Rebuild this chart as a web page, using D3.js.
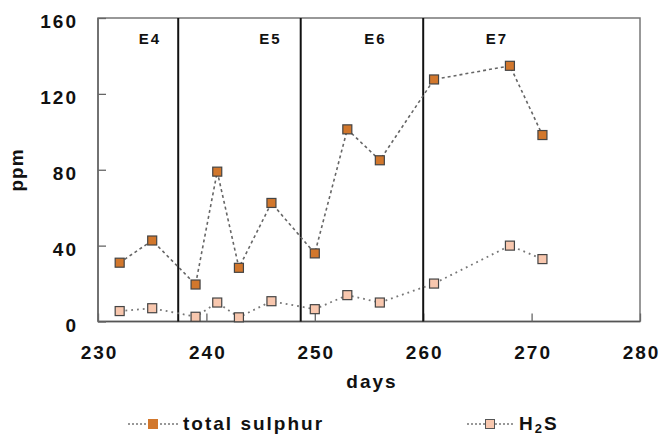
<!DOCTYPE html>
<html><head><meta charset="utf-8">
<script src="https://cdn.jsdelivr.net/npm/d3@7"></script>
<style>
html,body{margin:0;padding:0;background:#fff;}
text{font-family:"Liberation Sans",Arial,sans-serif;font-weight:bold;fill:#111;}
</style></head>
<body>
<svg id="c" width="661" height="434"></svg>
<script>
const days = [232, 235, 239, 241, 243, 246, 250, 253, 256, 261, 268, 271];
const totalSulphur = [31, 42.7, 19.5, 79, 28.3, 62.5, 35.9, 101.3, 85, 127.6, 134.8, 98.3];
const h2s = [5.5, 7, 2.5, 10, 2.2, 10.7, 6.5, 13.9, 10, 20, 40, 32.9];
const xTicks = [230, 240, 250, 260, 270, 280];
const yTicks = [0, 40, 80, 120, 160];
const phaseBounds = [237.4, 248.7, 260];
const phaseLabels = ["E4", "E5", "E6", "E7"];
const phaseLabelX = [234.8, 245.9, 255.6, 266.8];

const svg = d3.select("#c");
const x = d3.scaleLinear().domain([230, 280]).range([98, 640]);
const y = d3.scaleLinear().domain([0, 160]).range([321.5, 18]);

// frame
svg.append("rect").attr("x", x(230)).attr("y", y(160)).attr("width", x(280)-x(230)).attr("height", y(0)-y(160))
  .attr("fill", "none").attr("stroke", "#777").attr("stroke-width", 1.5);
svg.append("line").attr("x1", x(230)).attr("x2", x(280)).attr("y1", y(0)).attr("y2", y(0)).attr("stroke", "#555").attr("stroke-width", 1.5);
svg.append("line").attr("x1", x(230)).attr("x2", x(230)).attr("y1", y(0)).attr("y2", y(160)).attr("stroke", "#666").attr("stroke-width", 1.5);

// y axis
const yAxis = d3.axisLeft(y).tickValues(yTicks).tickSize(-8).tickPadding(20).tickFormat(d3.format("d"));
const gy = svg.append("g").attr("transform", `translate(${x(230)},0)`).call(yAxis);
gy.select(".domain").remove();
gy.selectAll(".tick line").attr("stroke", "#666").attr("stroke-width", 1.3);
gy.selectAll(".tick text").attr("font-size", 19).attr("letter-spacing", "2px").attr("fill", "#111")
  .attr("font-family", "Liberation Sans, Arial, sans-serif").attr("font-weight", "bold").attr("dy", "0.5em");

// x axis
const xAxis = d3.axisBottom(x).tickValues(xTicks).tickSize(-8).tickPadding(24).tickFormat(d3.format("d"));
const gx = svg.append("g").attr("transform", `translate(0,${y(0)})`).call(xAxis);
gx.select(".domain").remove();
gx.selectAll(".tick line").attr("stroke", "#666").attr("stroke-width", 1.3);
gx.selectAll(".tick text").attr("font-size", 19).attr("letter-spacing", "2px").attr("fill", "#111")
  .attr("font-family", "Liberation Sans, Arial, sans-serif").attr("font-weight", "bold").attr("dx", "1px");

// axis titles
svg.append("text").attr("x", 372).attr("y", 388).attr("text-anchor", "middle").attr("font-size", 19).attr("letter-spacing", "2px").text("days");
svg.append("text").attr("transform", "translate(23,170) rotate(-90)").attr("text-anchor", "middle").attr("font-size", 19).attr("letter-spacing", "1px").text("ppm");

// phase boundaries
svg.selectAll(".pb").data(phaseBounds).enter().append("line")
  .attr("x1", d => x(d)).attr("x2", d => x(d)).attr("y1", y(160)).attr("y2", y(0))
  .attr("stroke", "#111").attr("stroke-width", 2);
svg.selectAll(".pl").data(phaseLabels).enter().append("text")
  .attr("x", (d, i) => x(phaseLabelX[i])).attr("y", 44).attr("text-anchor", "middle")
  .attr("font-size", 15).attr("letter-spacing", "2px").text(d => d);

// lines
const pts = v => days.map((d, i) => [d, v[i]]);
const line = d3.line().x(d => x(d[0])).y(d => y(d[1]));
svg.append("path").attr("d", line(pts(totalSulphur))).attr("fill", "none").attr("stroke", "#666")
  .attr("stroke-width", 1.6).attr("stroke-dasharray", "3,3");
svg.append("path").attr("d", line(pts(h2s))).attr("fill", "none").attr("stroke", "#777")
  .attr("stroke-width", 1.8).attr("stroke-dasharray", "1.8,4");

const ms = 9;
function markers(v, fill) {
  svg.append("g").selectAll("rect").data(pts(v)).enter().append("rect")
    .attr("x", d => x(d[0]) - ms/2).attr("y", d => y(d[1]) - ms/2).attr("width", ms).attr("height", ms)
    .attr("fill", fill).attr("stroke", "#444").attr("stroke-width", 1.2);
}
markers(totalSulphur, "#D2772C");
markers(h2s, "#F8C7AE");

// legend
function legend(x0, x1, xm, dash, fill, stroke) {
  svg.append("line").attr("x1", x0).attr("x2", x1).attr("y1", 424).attr("y2", 424)
    .attr("stroke", "#777").attr("stroke-width", 1.5).attr("stroke-dasharray", dash);
  svg.append("rect").attr("x", xm - 4.5).attr("y", 419.5).attr("width", 9).attr("height", 9)
    .attr("fill", fill).attr("stroke", stroke).attr("stroke-width", 1);
  return svg.append("text").attr("y", 430).attr("font-size", 19).attr("letter-spacing", "2px");
}
legend(128, 178, 153, "2,2", "#D2772C", "#D2772C").attr("x", 183).text("total sulphur");
const t2 = legend(467, 513, 490, "2,2", "#F8C7AE", "#555").attr("x", 519);
t2.append("tspan").text("H");
t2.append("tspan").attr("font-size", 13).attr("dy", 2.5).text("2");
t2.append("tspan").attr("dy", -2.5).text("S");
</script>
</body></html>
